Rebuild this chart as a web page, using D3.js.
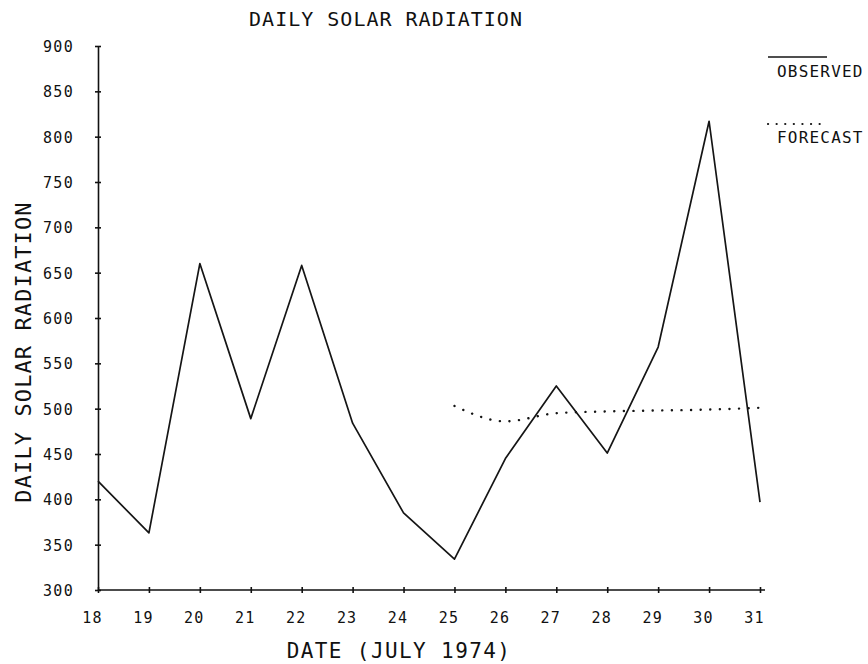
<!DOCTYPE html>
<html>

<head>
    <meta charset="utf-8">
    <script src="https://d3js.org/d3.v7.min.js" charset="utf-8"></script>
    <style>
        body { margin: 0; background: #fff; }
        svg text { font-family: "DejaVu Sans Mono", monospace; fill: #111; }
        .axis path, .axis line { stroke: #111; stroke-width: 1.6; }
    </style>
</head>

<body>
    <div id="chart_container"></div>
    <script>
        // Values
        var days = [18, 19, 20, 21, 22, 23, 24, 25, 26, 27, 28, 29, 30, 31];
        var observed = [420, 363, 660, 489, 658, 484, 385, 334, 445, 525, 451, 568, 817, 397];
        var forecastDays = [25, 26, 27, 28, 29, 30, 31];
        var forecast = [503, 486, 495, 497, 498, 499, 501];
        var yTicks = [300, 350, 400, 450, 500, 550, 600, 650, 700, 750, 800, 850, 900];

        var width = 868,
            height = 664;

        var margin = { top: 46, right: 108, bottom: 74, left: 98 };

        var svg = d3.select('#chart_container')
            .append('svg')
            .attr('width', width)
            .attr('height', height);

        var x = d3.scaleLinear()
            .domain([18, 31])
            .range([margin.left, width - margin.right]);

        var y = d3.scaleLinear()
            .domain([300, 900])
            .range([height - margin.bottom, margin.top]);

        // x axis, ticks cross the line like the plotter "+"
        var xAxis = svg.append('g')
            .attr('class', 'axis')
            .attr('transform', 'translate(0,' + y(300) + ')')
            .call(d3.axisBottom(x).tickValues(days).tickSizeInner(3).tickSizeOuter(0).tickPadding(0));
        xAxis.select('.domain').attr('d', 'M' + x(18) + ',0H' + (x(31) + 5));
        xAxis.selectAll('.tick line').attr('y1', -3);
        xAxis.selectAll('.tick text')
            .attr('dx', -6)
            .attr('y', 33)
            .attr('dy', 0)
            .style('font-size', '15px')
            .style('letter-spacing', '1.2px');

        // y axis
        var yAxis = svg.append('g')
            .attr('class', 'axis')
            .attr('transform', 'translate(' + x(18) + ',0)')
            .call(d3.axisLeft(y).tickValues(yTicks).tickSizeInner(3).tickSizeOuter(0));
        yAxis.selectAll('.tick line').attr('x1', 3);
        yAxis.selectAll('.tick text')
            .attr('x', -24)
            .attr('dy', '0.36em')
            .style('font-size', '15px')
            .style('letter-spacing', '1.3px')
            .style('text-anchor', 'end');

        // observed line
        var line = d3.line()
            .x((d, i) => x(days[i]))
            .y(d => y(d));

        svg.append('path')
            .datum(observed)
            .attr('d', line)
            .attr('fill', 'none')
            .attr('stroke', '#151515')
            .attr('stroke-width', 1.7)
            .attr('stroke-linejoin', 'round');

        // forecast dotted line
        var fLine = d3.line()
            .x((d, i) => x(forecastDays[i]))
            .y(d => y(d))
            .curve(d3.curveMonotoneX);

        svg.append('path')
            .datum(forecast)
            .attr('d', fLine)
            .attr('fill', 'none')
            .attr('stroke', '#151515')
            .attr('stroke-width', 2.4)
            .attr('stroke-linecap', 'round')
            .attr('stroke-dasharray', '0.1 9.5');

        // titles
        svg.append('text')
            .attr('x', 386)
            .attr('y', 26)
            .attr('text-anchor', 'middle')
            .style('font-size', '20px')
            .style('letter-spacing', '1px')
            .text('DAILY SOLAR RADIATION');

        svg.append('text')
            .attr('x', 399)
            .attr('y', 658)
            .attr('text-anchor', 'middle')
            .style('font-size', '21px')
            .style('letter-spacing', '1.4px')
            .text('DATE (JULY 1974)');

        svg.append('text')
            .attr('transform', 'translate(31,352) rotate(-90)')
            .attr('text-anchor', 'middle')
            .style('font-size', '22px')
            .style('letter-spacing', '1.1px')
            .text('DAILY SOLAR RADIATION');

        // legend
        svg.append('line')
            .attr('x1', 768).attr('x2', 827)
            .attr('y1', 57).attr('y2', 57)
            .attr('stroke', '#151515')
            .attr('stroke-width', 1.7);
        svg.append('text')
            .attr('x', 777)
            .attr('y', 77)
            .style('font-size', '16px')
            .style('letter-spacing', '1.2px')
            .text('OBSERVED');

        svg.append('line')
            .attr('x1', 768).attr('x2', 828)
            .attr('y1', 124).attr('y2', 124)
            .attr('stroke', '#151515')
            .attr('stroke-width', 2.2)
            .attr('stroke-linecap', 'round')
            .attr('stroke-dasharray', '0.1 8.5');
        svg.append('text')
            .attr('x', 777)
            .attr('y', 143)
            .style('font-size', '16px')
            .style('letter-spacing', '1.2px')
            .text('FORECAST');
    </script>
</body>

</html>
